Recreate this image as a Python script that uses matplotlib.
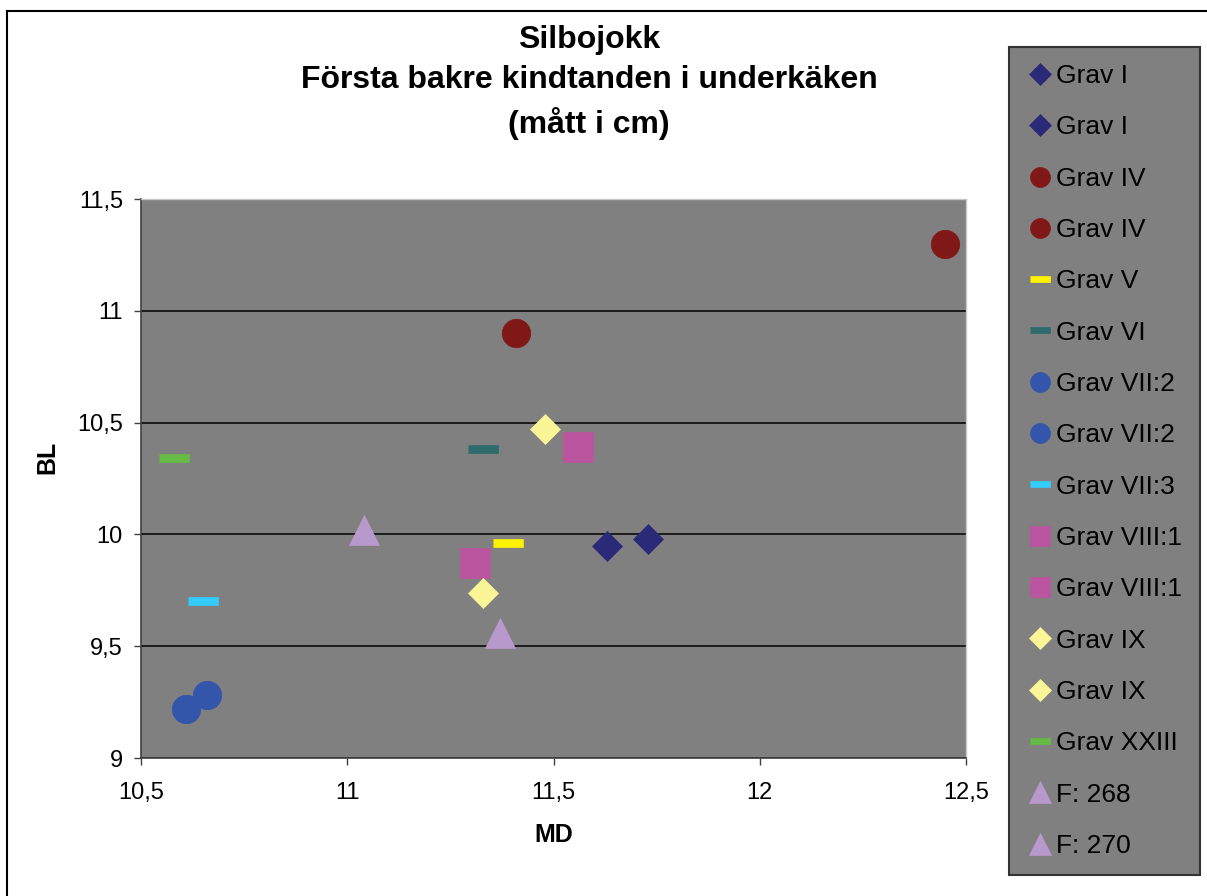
import numpy as np
import matplotlib.pyplot as plt
from matplotlib.lines import Line2D

plt.rcParams['font.family'] = ['Liberation Sans', 'DejaVu Sans']

# Data: one point per series (as in the original Excel chart)
names = ["Grav I", "Grav I", "Grav IV", "Grav IV", "Grav V", "Grav VI",
         "Grav VII:2", "Grav VII:2", "Grav VII:3", "Grav VIII:1", "Grav VIII:1",
         "Grav IX", "Grav IX", "Grav XXIII", "F: 268", "F: 270"]
md = [11.63, 11.73, 11.41, 12.45, 11.39, 11.33,
      10.61, 10.66, 10.65, 11.31, 11.56,
      11.33, 11.48, 10.58, 11.04, 11.37]
bl = [9.95, 9.98, 10.90, 11.30, 9.96, 10.38,
      9.22, 9.28, 9.70, 9.87, 10.39,
      9.74, 10.47, 10.34, 10.02, 9.56]

xticks = [10.5, 11, 11.5, 12, 12.5]
yticks = [9, 9.5, 10, 10.5, 11, 11.5]

# Marker styles per group (marker, color, size in pt)
dash = [(-1, -0.25), (1, -0.25), (1, 0.25), (-1, 0.25)]
styles = {
    "Grav I": ('D', '#2A2A78', 15.3),
    "Grav IV": ('o', '#801818', 20.5),
    "Grav V": (dash, '#FFF200', 21.4),
    "Grav VI": (dash, '#2E6B6B', 21.4),
    "Grav VII:2": ('o', '#3355AA', 20.5),
    "Grav VII:3": (dash, '#33CCFF', 21.4),
    "Grav VIII:1": ('s', '#BB55A0', 21),
    "Grav IX": ('D', '#FAF597', 15.3),
    "Grav XXIII": (dash, '#66BB44', 21.4),
    "F: 268": ('^', '#B899CC', 22),
    "F: 270": ('^', '#B899CC', 22),
}

fig = plt.figure(figsize=(12.07, 8.96), dpi=100)
ax = fig.add_axes([141/1207, 1 - 758/896, 825/1207, 559/896])
ax.set_facecolor('#808080')

handles = []
for name, x, y in zip(names, md, bl):
    m, c, s = styles[name]
    h, = ax.plot([x], [y], linestyle='none', marker=m, markersize=s,
                 markerfacecolor=c, markeredgecolor=c, markeredgewidth=0.5,
                 label=name, zorder=3)
    handles.append(h)

ax.set_xlim(10.5, 12.5)
ax.set_ylim(9, 11.5)
ax.set_xticks(xticks)
ax.set_yticks(yticks)
ax.set_xticklabels([f"{t:g}".replace('.', ',') for t in xticks], fontsize=17)
ax.set_yticklabels([f"{t:g}".replace('.', ',') for t in yticks], fontsize=17)
ax.tick_params(direction='out', length=5, width=1, color='#404040', pad=8)
ax.tick_params(axis='x', pad=12)
ax.grid(True, axis='y', color='black', linewidth=1.1, zorder=1)
ax.set_axisbelow(True)
for side in ['left', 'bottom']:
    ax.spines[side].set_color('#404040')
    ax.spines[side].set_linewidth(1.2)
for side in ['top', 'right']:
    ax.spines[side].set_color('#C8C8C8')
    ax.spines[side].set_linewidth(1)

ax.set_xlabel("MD", fontsize=18, fontweight='bold')
ax.set_ylabel("BL", fontsize=18, fontweight='bold')
ax.xaxis.set_label_coords(0.5, -0.116)
ax.yaxis.set_label_coords(-0.0985, 0.537)

# Title (three lines)
tx = 589 / 1207
fig.text(tx, 1 - 40/896, "Silbojokk", ha='center', va='center', fontsize=23, fontweight='bold')
fig.text(tx, 1 - 80/896, "Första bakre kindtanden i underkäken", ha='center', va='center',
         fontsize=23, fontweight='bold')
fig.text(tx, 1 - 123/896, "(mått i cm)", ha='center', va='center', fontsize=23, fontweight='bold')

leg = fig.legend(handles=handles, loc='upper left', bbox_to_anchor=(1009/1207, 1 - 47/896),
                 borderaxespad=0, fontsize=19, markerscale=0.7, labelspacing=1.035,
                 handlelength=1.05, handletextpad=0.1, borderpad=0.65, frameon=True,
                 fancybox=False, facecolor='#808080', edgecolor='#333333', framealpha=1)
leg.get_frame().set_linewidth(1.5)

# Outer chart border
fig.add_artist(Line2D([7/1207, 7/1207], [0, 1 - 11/896], transform=fig.transFigure,
                      color='black', linewidth=1.5))
fig.add_artist(Line2D([7/1207, 1], [1 - 11/896, 1 - 11/896], transform=fig.transFigure,
                      color='black', linewidth=1.5))

fig.savefig('out.png', dpi=100)
